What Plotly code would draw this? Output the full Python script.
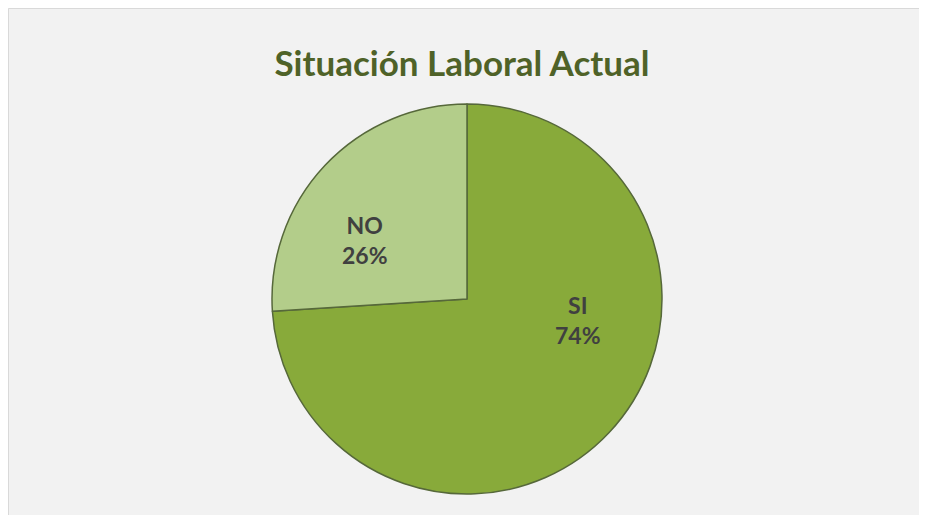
import plotly.graph_objects as go

labels = ["SI", "NO"]
values = [74, 26]
colors = ["#88aa3a", "#b3cd8a"]
title_text = "Situación Laboral Actual"

# page body has 8px margin; figure coordinates are offset by it
W, H = 919, 507
OFF = 8
cx, cy, r = 467 - OFF, 299 - OFF, 195

# label anchor positions (page px) for each slice's text
label_pos = {"SI": (578, 320), "NO": (365, 240)}

fig = go.Figure()
fig.add_trace(go.Pie(
    labels=labels,
    values=values,
    sort=False,
    direction="clockwise",
    rotation=0,
    marker=dict(colors=colors, line=dict(color="#56683a", width=1.5)),
    textinfo="none",
    showlegend=False,
    hoverinfo="skip",
    domain=dict(x=[(cx - r) / W, (cx + r) / W], y=[1 - (cy + r) / H, 1 - (cy - r) / H]),
))

total = sum(values)
annotations = []
for lab, val in zip(labels, values):
    px, py = label_pos[lab]
    annotations.append(dict(
        text=f"{lab}<br>{round(100 * val / total)}%",
        x=(px - OFF) / W, y=1 - (py - OFF) / H, xref="paper", yref="paper",
        xanchor="center", yanchor="middle", showarrow=False,
        font=dict(family="Lato", size=23, color="#404040", weight="bold"),
    ))

fig.update_layout(
    width=W, height=H,
    margin=dict(l=0, r=0, t=0, b=0),
    paper_bgcolor="#f2f2f2",
    annotations=annotations,
    shapes=[dict(type="rect", xref="paper", yref="paper", x0=0.5 / W, x1=1.02, y0=-0.02, y1=1 - 0.5 / H,
                 line=dict(color="#d9d9d9", width=1), fillcolor="rgba(0,0,0,0)", layer="below")],
    title=dict(text=title_text, x=(462 - OFF) / W, xanchor="center", y=1 - (64 - OFF) / H, yanchor="middle",
               font=dict(family="Lato", size=35, color="#4f6228", weight="bold")),
)

fig.write_html("out.html")
